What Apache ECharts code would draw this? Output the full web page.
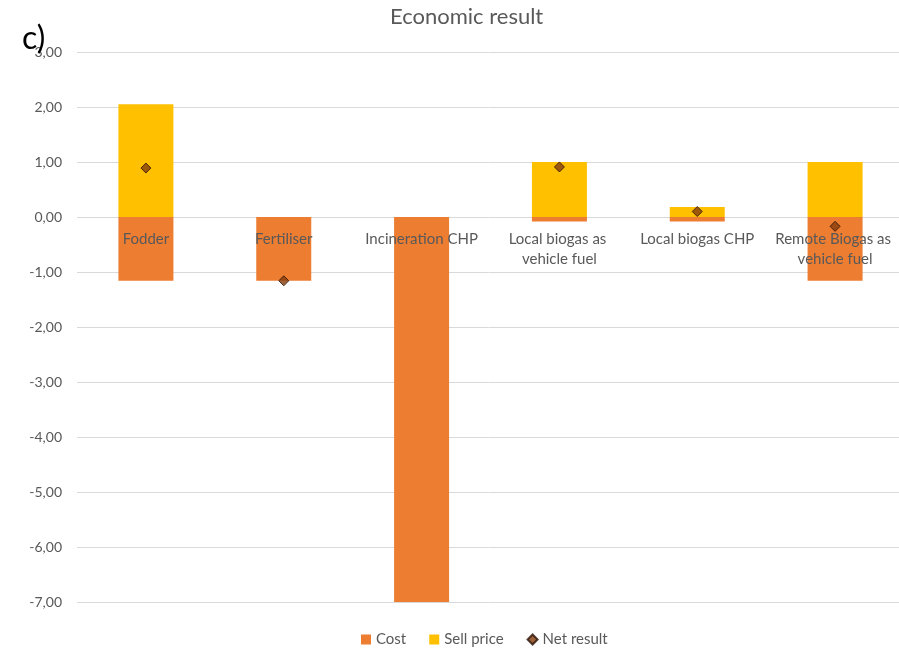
<!DOCTYPE html>
<html><head><meta charset="utf-8">
<script src="https://cdn.jsdelivr.net/npm/echarts@6/dist/echarts.min.js"></script>
<style>html,body{margin:0;padding:0;background:#fff;overflow:hidden}#c{width:899px;height:651px}</style>
</head><body><div id="c"></div>
<script>
const categories = ['Fodder','Fertiliser','Incineration CHP','Local biogas as vehicle fuel','Local biogas CHP','Remote Biogas as vehicle fuel'];
const cost = [-1.16, -1.16, -7.5, -0.08, -0.08, -1.16];
const sellPrice = [2.05, 0, 0, 1.0, 0.18, 1.0];
const netResult = [0.89, -1.16, -7.5, 0.91, 0.10, -0.17];
const yTicks = {min: -7, max: 3, interval: 1};

const FONT = 'Lato, "Open Sans", sans-serif';
const TOP = 52, PLOT_H = 550;
// lift the category axis to the zero line of the value scale
const zeroOffset = -PLOT_H * (0 - yTicks.min) / (yTicks.max - yTicks.min);

const chart = echarts.init(document.getElementById('c'));
chart.setOption({
  animation: false,
  backgroundColor: '#fff',
  title: [
    {text: 'Economic result', left: 385, top: 1,
     textStyle: {fontFamily: FONT, fontSize: 22, fontWeight: 'normal', color: '#595959'}},
    {text: 'c)', left: 17, top: 18,
     textStyle: {fontFamily: FONT, fontSize: 32, fontWeight: 'normal', color: '#000'}}
  ],
  grid: {left: 77, top: TOP, width: 827, height: PLOT_H, containLabel: false, outerBoundsMode: 'none'},
  legend: {
    top: 627, left: 356, itemGap: 23, itemWidth: 10, itemHeight: 10,
    textStyle: {fontFamily: FONT, fontSize: 15, color: '#595959'},
    data: [{name: 'Cost', icon: 'rect'}, {name: 'Sell price', icon: 'rect'}, {name: 'Net result', icon: 'diamond'}]
  },
  xAxis: {
    type: 'category', data: categories, offset: zeroOffset,
    axisLine: {show: false},
    axisTick: {show: false},
    axisLabel: {interval: 0, margin: 12, color: '#595959', fontFamily: FONT, fontSize: 15,
      width: 128, overflow: 'break', lineHeight: 20},
    z: 10
  },
  yAxis: {
    type: 'value', min: yTicks.min, max: yTicks.max, interval: yTicks.interval,
    axisLine: {show: false}, axisTick: {show: false},
    splitLine: {lineStyle: {color: '#d9d9d9', width: 1}},
    axisLabel: {margin: 15, color: '#595959', fontFamily: FONT, fontSize: 14,
      formatter: v => v.toFixed(2).replace('.', ',')}
  },
  series: [
    {name: 'Cost', type: 'bar', stack: 'a', data: cost, barWidth: 55,
     itemStyle: {color: '#ED7D31'}},
    {name: 'Sell price', type: 'bar', stack: 'a', data: sellPrice, barWidth: 55,
     itemStyle: {color: '#FFC000'}},
    {name: 'Net result', type: 'scatter', data: netResult, symbol: 'diamond', symbolSize: 10,
     itemStyle: {color: '#843C0C', borderColor: '#2b1205', borderWidth: 1}, z: 20}
  ]
});
</script></body></html>
